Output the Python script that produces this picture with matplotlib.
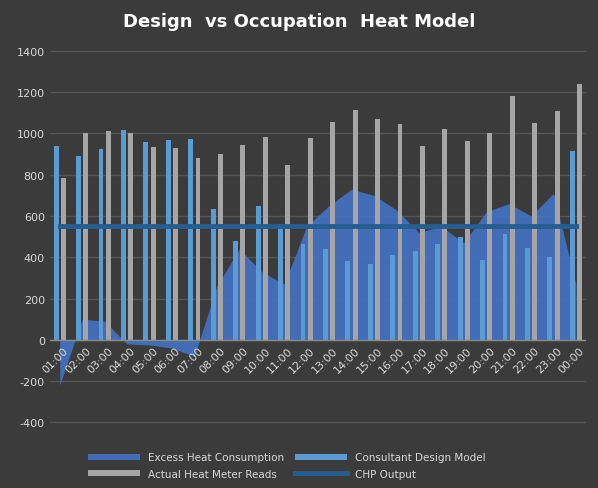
import matplotlib
matplotlib.use("Agg")
import matplotlib.pyplot as plt
import numpy as np

plt.rcParams['axes.unicode_minus'] = False

hours = ["01:00","02:00","03:00","04:00","05:00","06:00","07:00","08:00","09:00","10:00","11:00","12:00",
         "13:00","14:00","15:00","16:00","17:00","18:00","19:00","20:00","21:00","22:00","23:00","00:00"]
excess = [-220,100,90,-20,-25,-40,-80,260,440,330,270,550,650,730,700,630,520,550,470,620,660,600,710,270]
design = [940,890,925,1015,960,970,975,635,480,650,560,465,440,380,365,410,430,465,500,385,515,445,400,915]
actual = [785,1000,1010,1000,935,930,880,900,945,985,845,980,1055,1115,1070,1045,940,1020,965,1000,1180,1050,1110,1240]
chp = [550]*24

bg = "#3b3b3b"
fig = plt.figure(figsize=(5.98,4.89), dpi=100, facecolor=bg)
ax = fig.add_axes([0.083, 0.092, 0.897, 0.823], facecolor=bg)
x = np.arange(len(hours))
h1 = ax.fill_between(x, excess, 0, color="#4472c4", alpha=0.9, linewidth=0, label="Excess Heat Consumption", zorder=1)
w = 0.22
h2 = ax.bar(x-0.16, design, w, color="#5b9bd5", label="Consultant Design Model", zorder=2)
h3 = ax.bar(x+0.16, actual, w, color="#a5a5a5", label="Actual Heat Meter Reads", zorder=2)
h4, = ax.plot(x, chp, color="#255e91", lw=3.5, label="CHP Output", zorder=3)

ax.set_xlim(-0.45, 23.45)
ax.set_ylim(-500, 1450)
ax.set_yticks(range(-400, 1401, 200))
ax.yaxis.grid(True, color="#555555", lw=1)
ax.set_axisbelow(True)
for s in ax.spines.values():
    s.set_visible(False)
ax.axhline(0, color="#8a8a8a", lw=1, zorder=4)
ax.tick_params(colors="#d9d9d9", length=0, labelsize=8)
ax.set_xticks(x)
ax.set_xticklabels([])
for i, h in enumerate(hours):
    ax.text(i+0.15, -25, h, rotation=45, ha="right", va="top", rotation_mode="anchor",
            color="#d9d9d9", fontsize=8)
fig.text(0.5, 0.955, "Design  vs Occupation  Heat Model", ha="center", va="center",
         color="white", fontsize=13, fontweight="bold")
fig.legend([h1, h3, h2, h4],
           ["Excess Heat Consumption", "Actual Heat Meter Reads", "Consultant Design Model", "CHP Output"],
           loc="lower center", bbox_to_anchor=(0.48, 0.0), ncol=2, frameon=False,
           fontsize=7.5, labelcolor="#d9d9d9", handlelength=5, handleheight=0.5,
           columnspacing=1.0, labelspacing=0.6)
plt.savefig("out.png", dpi=100, facecolor=bg)
